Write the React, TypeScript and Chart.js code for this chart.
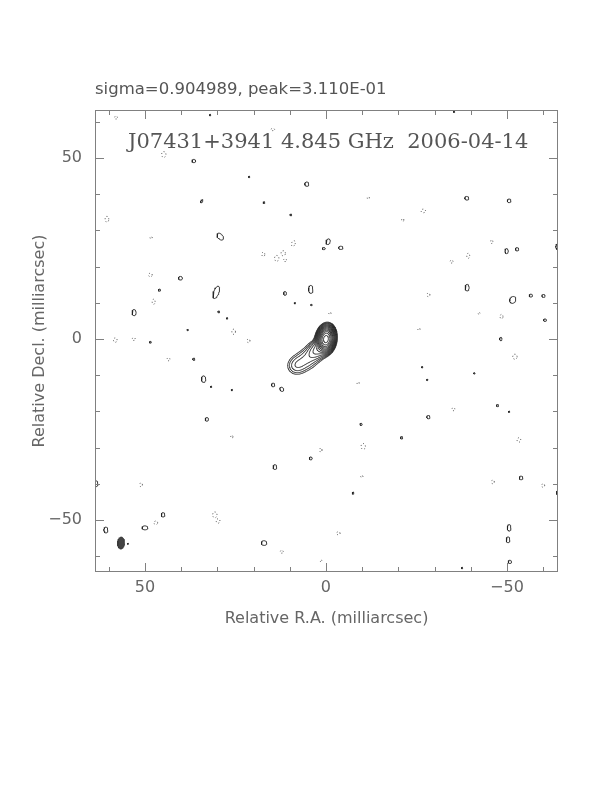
import { useEffect, useRef } from 'react';
import { Chart, registerables } from 'chart.js';

Chart.register(...registerables);

// ---- axes ----
const X_MIN = -64.1;
const X_MAX = 63.8;
const Y_MIN = -64.4;
const Y_MAX = 63.3;
const LABEL_TICKS = [50, 0, -50];
const MINOR_TICKS = [-60, -50, -40, -30, -20, -10, 0, 10, 20, 30, 40, 50, 60];

const SUBTITLE = 'sigma=0.904989, peak=3.110E-01';
const TITLE = 'J07431+3941 4.845 GHz  2006-04-14';
const X_TITLE = 'Relative R.A. (milliarcsec)';
const Y_TITLE = 'Relative Decl. (milliarcsec)';

// ---- source model components (mas, mJy/beam) ----
const COMP_X = [0, 2.4, 5.3, 8.3];
const COMP_Y = [0, -3.0, -5.6, -7.4];
const COMP_PEAK = [300, 16, 7.5, 6];
const COMP_MAJ = [3.6, 4.0, 5.0, 4.0];
const COMP_MIN = [2.4, 3.4, 4.4, 4.0];
const COMP_PA = [-8, 130, 125, 120];

// contour levels (mJy/beam)
const LEVELS = [2.7, 3.82, 5.4, 7.64, 10.8, 15.3, 21.6, 30.5, 43.2, 61.1, 86.4, 122, 173, 244];

// beam: [x, y, rx, ry, tilt]
const BEAM = [56.6, -56.4, 0.97, 1.66, 4];

// positive noise islands: [x, y, rx, ry, tilt]
const POS_ISLANDS: number[][] = [
  [36.5, 49.2, 0.5, 0.45, 0], [29.2, 28.3, 0.7, 1.1, -40], [5.3, 42.8, 0.55, 0.6, 0],
  [17.1, 37.7, 0.25, 0.25, 0], [9.7, 34.3, 0.25, 0.25, 0], [-0.6, 26.9, 0.55, 0.8, 20],
  [0.6, 25.0, 0.4, 0.3, 0], [-4.1, 25.2, 0.6, 0.45, 0], [-38.9, 38.9, 0.55, 0.5, 0],
  [-50.6, 38.2, 0.5, 0.5, 0], [-49.9, 24.3, 0.45, 0.7, 0], [-52.8, 24.8, 0.45, 0.45, 0],
  [-64.0, 25.5, 0.5, 0.8, 0], [40.2, 16.8, 0.55, 0.5, 0], [46.0, 13.5, 0.3, 0.3, 0],
  [30.3, 12.9, 0.7, 1.8, 20], [53.0, 7.3, 0.55, 0.85, 0], [29.6, 7.5, 0.25, 0.25, 0],
  [27.3, 5.7, 0.2, 0.2, 0], [38.2, 2.5, 0.2, 0.2, 0], [48.5, -0.9, 0.25, 0.25, 0],
  [36.5, -5.6, 0.3, 0.3, 0], [33.8, -11.1, 0.6, 0.9, 0], [31.7, -13.2, 0.2, 0.2, 0],
  [26.0, -14.1, 0.2, 0.2, 0], [32.9, -22.2, 0.45, 0.5, 0], [-39.0, 14.2, 0.55, 0.9, 0],
  [-51.6, 10.8, 0.8, 1.0, 30], [-56.6, 12.0, 0.45, 0.4, 0], [-60.1, 11.9, 0.45, 0.4, 0],
  [-60.5, 5.2, 0.4, 0.35, 0], [-48.3, 0.0, 0.35, 0.45, 0], [-26.6, -7.8, 0.2, 0.2, 0],
  [-28.0, -11.3, 0.2, 0.2, 0], [-41.0, -9.5, 0.2, 0.2, 0], [-47.4, -18.4, 0.3, 0.3, 0],
  [-50.6, -20.1, 0.2, 0.2, 0], [-28.3, -21.6, 0.45, 0.45, 0], [-9.7, -23.6, 0.3, 0.3, 0],
  [-20.9, -27.3, 0.3, 0.35, 0], [4.2, -33.0, 0.4, 0.4, 0], [14.1, -35.4, 0.5, 0.65, 0],
  [-7.5, -42.6, 0.25, 0.3, 0], [17.1, -56.4, 0.75, 0.65, 0], [11.3, 12.6, 0.4, 0.5, 0],
  [4.2, 13.7, 0.6, 1.1, 0], [8.6, 9.9, 0.2, 0.2, 0], [4.0, 9.4, 0.2, 0.2, 0],
  [14.6, -12.7, 0.45, 0.5, 0], [12.2, -13.9, 0.5, 0.6, -30], [63.5, -40.0, 0.5, 0.8, 0],
  [60.8, -52.8, 0.55, 0.8, 0], [50.0, -52.2, 0.8, 0.55, 0], [45.0, -48.6, 0.5, 0.6, 0],
  [-53.9, -38.4, 0.5, 0.5, 0], [-50.6, -52.2, 0.5, 0.9, 0], [-50.3, -55.5, 0.5, 0.8, 0],
  [-50.8, -61.6, 0.45, 0.45, 0], [-64.0, -42.5, 0.3, 0.6, 0], [-37.6, -63.3, 0.2, 0.2, 0],
  [54.7, -56.6, 0.15, 0.15, 0], [32.0, 61.9, 0.2, 0.2, 0], [21.2, 44.8, 0.2, 0.2, 0],
  [34.3, 38.1, 0.25, 0.5, 30], [-35.4, 62.8, 0.2, 0.2, 0],
];

// negative noise islands: [x, y, rx, ry, tilt]
const NEG_ISLANDS: number[][] = [
  [58.0, 61.2, 0.4, 0.4, 0], [44.8, 51.0, 0.6, 0.8, 0], [60.5, 33.1, 0.5, 0.8, 0],
  [48.3, 28.0, 0.3, 0.3, 0], [14.7, 57.9, 0.5, 0.3, 0], [-11.7, 39.0, 0.3, 0.3, 0],
  [-21.2, 32.9, 0.3, 0.4, 0], [9.0, 26.4, 0.5, 0.8, 20], [11.8, 23.7, 0.6, 0.7, 0],
  [13.6, 22.3, 0.6, 0.8, 0], [17.3, 23.4, 0.4, 0.6, 0], [11.3, 21.8, 0.4, 0.4, 0],
  [-26.9, 35.4, 0.6, 0.5, 0], [-45.8, 26.9, 0.3, 0.5, 0], [-39.3, 23.0, 0.4, 0.7, 0],
  [-34.7, 21.4, 0.4, 0.4, 0], [48.5, 17.7, 0.5, 0.5, 0], [47.6, 10.3, 0.4, 0.7, 0],
  [25.5, 2.0, 0.5, 0.7, 0], [58.2, -0.3, 0.5, 0.6, 0], [53.1, 0.0, 0.4, 0.4, 0],
  [21.4, -0.5, 0.4, 0.5, 0], [43.5, -5.6, 0.4, 0.4, 0], [-28.3, 12.2, 0.4, 0.5, 0],
  [-42.3, 7.1, 0.25, 0.25, 0], [-48.5, 6.2, 0.4, 0.6, 0], [-25.7, 2.7, 0.3, 0.3, 0],
  [-52.2, -4.9, 0.6, 0.7, 0], [-35.2, -19.4, 0.4, 0.4, 0], [1.4, -30.7, 0.3, 0.6, 0],
  [-10.3, -29.7, 0.6, 0.8, 0], [-9.9, -38.0, 0.3, 0.3, 0], [-3.4, -53.7, 0.5, 0.4, 0],
  [12.2, -58.8, 0.4, 0.4, 0], [1.4, -61.3, 0.3, 0.2, 0], [-1.1, 7.1, 0.3, 0.3, 0],
  [-8.9, -12.2, 0.3, 0.3, 0], [51.1, -40.3, 0.4, 0.5, 0], [47.0, -50.8, 0.5, 0.5, 0],
  [30.7, -48.6, 0.6, 0.8, 0], [29.8, -50.3, 0.5, 0.6, 0], [26.0, -27.0, 0.3, 0.4, 0],
  [-46.1, -39.5, 0.4, 0.5, 0], [-53.3, -27.9, 0.5, 0.6, 0], [-60.0, -40.5, 0.4, 0.5, 0],
];

type P = { x: number; y: number };
const GAP: P = { x: NaN, y: NaN };

function islandPoints(list: number[][], n = 28): P[] {
  const out: P[] = [];
  for (const [cx, cy, rx, ry, tilt] of list) {
    const t = (tilt * Math.PI) / 180;
    const a1x = -Math.cos(t), a1y = -Math.sin(t);
    const a2x = -Math.sin(t), a2y = Math.cos(t);
    for (let k = 0; k <= n; k++) {
      const ang = (2 * Math.PI * k) / n;
      const u = rx * Math.cos(ang), v = ry * Math.sin(ang);
      out.push({ x: cx + u * a1x + v * a2x, y: cy + u * a1y + v * a2y });
    }
    out.push(GAP);
  }
  return out;
}

function field(x: number, y: number): number {
  let s = 0;
  const k = 4 * Math.LN2;
  for (let i = 0; i < COMP_X.length; i++) {
    const t = (COMP_PA[i] * Math.PI) / 180;
    const dx = x - COMP_X[i], dy = y - COMP_Y[i];
    const u = dx * Math.sin(t) + dy * Math.cos(t);
    const v = dx * Math.cos(t) - dy * Math.sin(t);
    s += COMP_PEAK[i] * Math.exp(-k * ((u * u) / (COMP_MAJ[i] ** 2) + (v * v) / (COMP_MIN[i] ** 2)));
  }
  return s;
}

function sourceContours(): P[] {
  const x0 = -9, x1 = 20, y0 = -18, y1 = 10, step = 0.12;
  const nx = Math.round((x1 - x0) / step) + 1;
  const ny = Math.round((y1 - y0) / step) + 1;
  const vals = new Float64Array(nx * ny);
  for (let j = 0; j < ny; j++) for (let i = 0; i < nx; i++) vals[j * nx + i] = field(x0 + i * step, y0 + j * step);
  const out: P[] = [];
  for (const L of LEVELS) {
    for (let j = 0; j < ny - 1; j++) {
      for (let i = 0; i < nx - 1; i++) {
        const v0 = vals[j * nx + i], v1 = vals[j * nx + i + 1];
        const v2 = vals[(j + 1) * nx + i + 1], v3 = vals[(j + 1) * nx + i];
        const b0 = v0 >= L, b1 = v1 >= L, b2 = v2 >= L, b3 = v3 >= L;
        if (b0 === b1 && b1 === b2 && b2 === b3) continue;
        const xa = x0 + i * step, ya = y0 + j * step;
        const e: (P | null)[] = [null, null, null, null];
        if (b0 !== b1) e[0] = { x: xa + step * (L - v0) / (v1 - v0), y: ya };
        if (b1 !== b2) e[1] = { x: xa + step, y: ya + step * (L - v1) / (v2 - v1) };
        if (b3 !== b2) e[2] = { x: xa + step * (L - v3) / (v2 - v3), y: ya + step };
        if (b0 !== b3) e[3] = { x: xa, y: ya + step * (L - v0) / (v3 - v0) };
        const present = e.filter((p) => p) as P[];
        if (present.length === 2) {
          out.push(present[0], present[1], GAP);
        } else if (present.length === 4) {
          const c = (v0 + v1 + v2 + v3) / 4 >= L;
          if (c === b0) {
            out.push(e[0]!, e[1]!, GAP, e[2]!, e[3]!, GAP);
          } else {
            out.push(e[3]!, e[0]!, GAP, e[1]!, e[2]!, GAP);
          }
        }
      }
    }
  }
  return out;
}

const framePlugin = {
  id: 'frame',
  afterDatasetsDraw(chart: any) {
    const { ctx, chartArea: a, scales } = chart;
    const sx = scales.x, sy = scales.y;
    ctx.save();
    ctx.strokeStyle = '#808080';
    ctx.lineWidth = 1;
    ctx.strokeRect(Math.round(a.left) + 0.5, Math.round(a.top) + 0.5, Math.round(a.width) - 1, Math.round(a.height) - 1);
    ctx.beginPath();
    for (const v of MINOR_TICKS) {
      const len = v % 50 === 0 ? 9 : 5;
      const px = Math.round(sx.getPixelForValue(v)) + 0.5;
      if (px > a.left + 1 && px < a.right - 1) {
        ctx.moveTo(px, a.bottom); ctx.lineTo(px, a.bottom - len);
        ctx.moveTo(px, a.top); ctx.lineTo(px, a.top + len);
      }
      const py = Math.round(sy.getPixelForValue(v)) + 0.5;
      if (py > a.top + 1 && py < a.bottom - 1) {
        ctx.moveTo(a.left, py); ctx.lineTo(a.left + len, py);
        ctx.moveTo(a.right, py); ctx.lineTo(a.right - len, py);
      }
    }
    ctx.stroke();
    ctx.fillStyle = '#555';
    ctx.textBaseline = 'middle';
    ctx.textAlign = 'left';
    ctx.font = '16.5px "DejaVu Sans"';
    ctx.fillText(SUBTITLE, a.left, a.top - 20);
    ctx.font = '21px "DejaVu Serif"';
    ctx.fillStyle = '#555';
    ctx.fillText(TITLE, 128, 143);
    ctx.restore();
  },
};

export default function App() {
  const ref = useRef<HTMLCanvasElement>(null);
  useEffect(() => {
    const tickFont = { family: 'DejaVu Sans', size: 16 };
    const fmt = (v: any) => (Number(v) < 0 ? '\u2212' + Math.abs(Number(v)) : String(v));
    const chart = new Chart(ref.current!, {
      type: 'scatter',
      data: {
        datasets: [
          {
            data: islandPoints([BEAM], 36),
            showLine: true,
            fill: 'shape',
            backgroundColor: '#444',
            borderColor: '#333',
            borderWidth: 0.8,
            pointRadius: 0,
            spanGaps: false,
          } as any,
          {
            data: sourceContours(),
            showLine: true,
            borderColor: '#222',
            borderWidth: 0.9,
            pointRadius: 0,
            spanGaps: false,
          },
          {
            data: islandPoints(POS_ISLANDS),
            showLine: true,
            borderColor: '#222',
            borderWidth: 0.9,
            pointRadius: 0,
            spanGaps: false,
          },
          {
            data: islandPoints(NEG_ISLANDS),
            showLine: true,
            borderColor: '#333',
            borderWidth: 0.9,
            borderDash: [1, 2.2],
            pointRadius: 0,
            spanGaps: false,
          },
        ],
      },
      options: {
        animation: false,
        responsive: false,
        devicePixelRatio: 1,
        events: [],
        layout: { padding: { left: 0, top: 110, right: 54, bottom: 0 } },
        plugins: { legend: { display: false }, tooltip: { enabled: false } },
        scales: {
          x: {
            type: 'linear',
            position: 'bottom',
            min: X_MIN,
            max: X_MAX,
            reverse: true,
            grid: { display: false, drawTicks: false },
            border: { display: false },
            afterBuildTicks: (s: any) => { s.ticks = LABEL_TICKS.map((v) => ({ value: v })); },
            afterFit: (s: any) => { s.height = 220; },
            ticks: { font: tickFont, color: '#666', padding: 6, maxRotation: 0, autoSkip: false, callback: fmt },
            title: { display: true, text: X_TITLE, font: tickFont, color: '#666', padding: { top: 0, bottom: 164 } },
          },
          y: {
            type: 'linear',
            position: 'left',
            min: Y_MIN,
            max: Y_MAX,
            grid: { display: false, drawTicks: false },
            border: { display: false },
            afterBuildTicks: (s: any) => { s.ticks = LABEL_TICKS.map((v) => ({ value: v })); },
            afterFit: (s: any) => { s.width = 95; },
            ticks: { font: tickFont, color: '#666', padding: 13, autoSkip: false, callback: fmt },
            title: { display: true, text: Y_TITLE, font: tickFont, color: '#666', padding: { top: 30, bottom: 0 } },
          },
        },
      } as any,
      plugins: [framePlugin],
    });
    return () => chart.destroy();
  }, []);
  return (
    <div style={{ position: 'absolute', left: 0, top: 0, width: 612, height: 792, background: '#fff' }}>
      <canvas ref={ref} width={612} height={792} style={{ display: 'block', width: 612, height: 792 }} />
    </div>
  );
}
